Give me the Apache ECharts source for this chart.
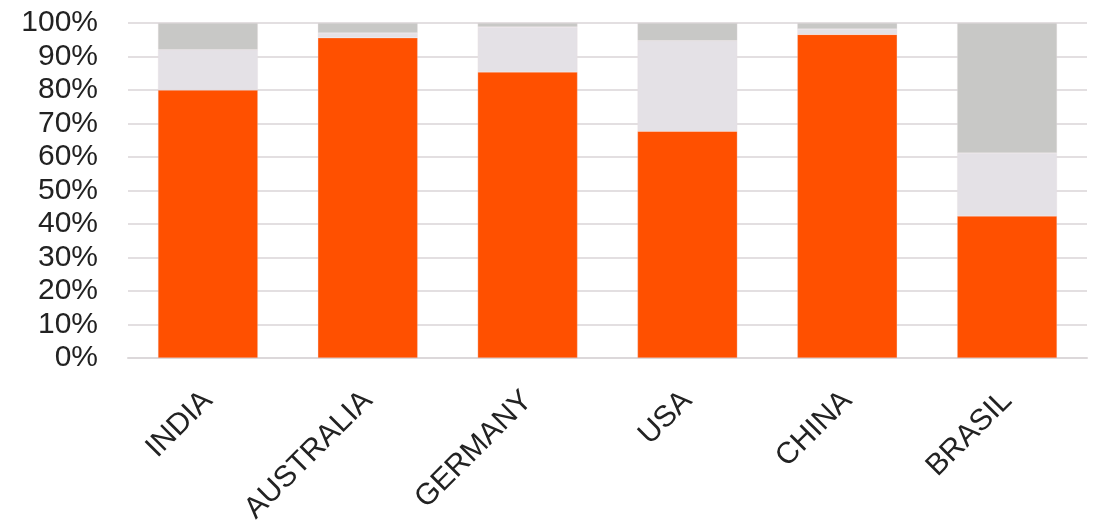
<!DOCTYPE html>
<html>
<head>
<meta charset="utf-8">
<script src="https://cdn.jsdelivr.net/npm/echarts@6/dist/echarts.min.js"></script>
<style>html,body{margin:0;padding:0;background:#fff}#c{width:1096px;height:525px}</style>
</head>
<body>
<div id="c"></div>
<script>
const categories = ['INDIA', 'AUSTRALIA', 'GERMANY', 'USA', 'CHINA', 'BRASIL'];
const seriesA = [80, 95.6, 85.4, 67.7, 96.6, 42.4];
const seriesB = [12, 1.4, 13.4, 27, 1.6, 18.8];
const seriesC = [8, 3, 1.2, 5.3, 1.8, 38.8];
const yTicks = [0, 10, 20, 30, 40, 50, 60, 70, 80, 90, 100];

const chart = echarts.init(document.getElementById('c'));
const font = 'Liberation Sans, Arial, sans-serif';
const mk = (name, data, color) => ({
  name, type: 'bar', stack: 's', data, barWidth: '62.5%',
  itemStyle: { color, borderColor: 'rgba(230,220,225,0.6)', borderWidth: 0.5 },
  silent: true
});
chart.setOption({
  animation: false,
  grid: { left: 128, right: 9, top: 23, bottom: 167, containLabel: false, outerBoundsMode: 'none' },
  xAxis: {
    type: 'category', data: categories,
    axisLine: { lineStyle: { color: '#dcd8da', width: 2 } },
    axisTick: { show: false },
    axisLabel: { rotate: 45, fontSize: 30, color: '#222', fontFamily: font, margin: 38, interval: 0 }
  },
  yAxis: {
    type: 'value', min: yTicks[0], max: yTicks[yTicks.length - 1], interval: 10,
    axisLine: { show: false }, axisTick: { show: false },
    splitLine: { lineStyle: { color: '#e3dfe1', width: 2 } },
    axisLabel: { formatter: v => v + '%', fontSize: 30, color: '#222', fontFamily: font, margin: 30 }
  },
  series: [
    mk('A', seriesA, '#ff5000'),
    mk('B', seriesB, '#e4e1e6'),
    mk('C', seriesC, '#c8c8c6')
  ]
});
</script>
</body>
</html>
